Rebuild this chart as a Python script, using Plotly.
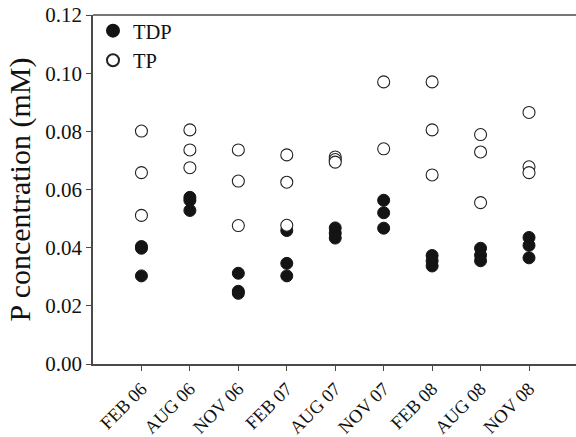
import plotly.graph_objects as go

# Sampling dates (category positions 1..9 on the x axis)
dates = ["FEB 06", "AUG 06", "NOV 06", "FEB 07", "AUG 07",
         "NOV 07", "FEB 08", "AUG 08", "NOV 08"]

# Total dissolved phosphorus (mM), replicate samples per date
tdp_feb06 = [0.0404, 0.0398, 0.0303]
tdp_aug06 = [0.0573, 0.0563, 0.0528]
tdp_nov06 = [0.0312, 0.0250, 0.0243]
tdp_feb07 = [0.0459, 0.0346, 0.0303]
tdp_aug07 = [0.0468, 0.0450, 0.0433]
tdp_nov07 = [0.0563, 0.0520, 0.0467]
tdp_feb08 = [0.0373, 0.0355, 0.0337]
tdp_aug08 = [0.0398, 0.0374, 0.0355]
tdp_nov08 = [0.0435, 0.0408, 0.0365]

# Total phosphorus (mM), replicate samples per date
tp_feb06 = [0.0801, 0.0658, 0.0511]
tp_aug06 = [0.0805, 0.0736, 0.0675]
tp_nov06 = [0.0736, 0.0629, 0.0476]
tp_feb07 = [0.0719, 0.0625, 0.0477]
tp_aug07 = [0.0712, 0.0703, 0.0694]
tp_nov07 = [0.0970, 0.0740]
tp_feb08 = [0.0970, 0.0805, 0.0650]
tp_aug08 = [0.0789, 0.0729, 0.0555]
tp_nov08 = [0.0865, 0.0678, 0.0658]

tdp_groups = [tdp_feb06, tdp_aug06, tdp_nov06, tdp_feb07, tdp_aug07,
              tdp_nov07, tdp_feb08, tdp_aug08, tdp_nov08]
tp_groups = [tp_feb06, tp_aug06, tp_nov06, tp_feb07, tp_aug07,
             tp_nov07, tp_feb08, tp_aug08, tp_nov08]

y_ticks = [0.00, 0.02, 0.04, 0.06, 0.08, 0.10, 0.12]


def flatten(groups):
    xs, ys = [], []
    for i, g in enumerate(groups):
        for v in g:
            xs.append(i + 1)
            ys.append(v)
    return xs, ys


tdp_x, tdp_y = flatten(tdp_groups)
tp_x, tp_y = flatten(tp_groups)

AXIS = "#4a4a4a"
FONT = "Times New Roman, Liberation Serif, serif"

fig = go.Figure()
fig.add_trace(go.Scatter(
    x=tdp_x, y=tdp_y, mode="markers", name="TDP",
    marker=dict(symbol="circle", size=12, color="#141414",
                line=dict(color="#141414", width=1)),
))
fig.add_trace(go.Scatter(
    x=tp_x, y=tp_y, mode="markers", name="TP",
    marker=dict(symbol="circle", size=12, color="white",
                line=dict(color="#222222", width=1.1)),
))

fig.update_layout(
    width=576, height=437,
    margin=dict(l=93, r=0, t=15, b=73),
    paper_bgcolor="white", plot_bgcolor="white",
    font=dict(family=FONT, color="#111111", size=18),
    showlegend=True,
    legend=dict(x=0.0, y=1.012, xanchor="left", yanchor="top",
                bgcolor="rgba(0,0,0,0)", font=dict(size=20.5, family=FONT),
                itemsizing="constant", itemwidth=30, tracegroupgap=0),
    xaxis=dict(
        range=[0, 9.97], tickmode="array", automargin=False,
        tickvals=list(range(1, len(dates) + 1)), ticktext=dates,
        tickangle=-45, ticks="outside", ticklen=5, tickwidth=1.2,
        tickcolor=AXIS, showline=True, linecolor=AXIS, linewidth=1.5,
        showgrid=False, zeroline=False,
        tickfont=dict(size=18.5, family=FONT, color="#111111"),
    ),
    yaxis=dict(
        range=[0, 0.12], tickmode="array", tickvals=y_ticks, automargin=False,
        ticktext=[f"{v:.2f}" for v in y_ticks],
        ticks="outside", ticklen=5, tickwidth=1.2, tickcolor=AXIS,
        showline=True, linecolor=AXIS, linewidth=1.5,
        showgrid=False, zeroline=False,
        tickfont=dict(size=21, family=FONT, color="#111111"),
        title=dict(text="P concentration (mM)", font=dict(size=30, family=FONT),
                   standoff=6),
    ),
    shapes=[dict(type="line", xref="paper", yref="paper", x0=0, x1=1,
                 y0=1, y1=1, line=dict(color=AXIS, width=1.5))],
)

fig.write_html("out.html")
